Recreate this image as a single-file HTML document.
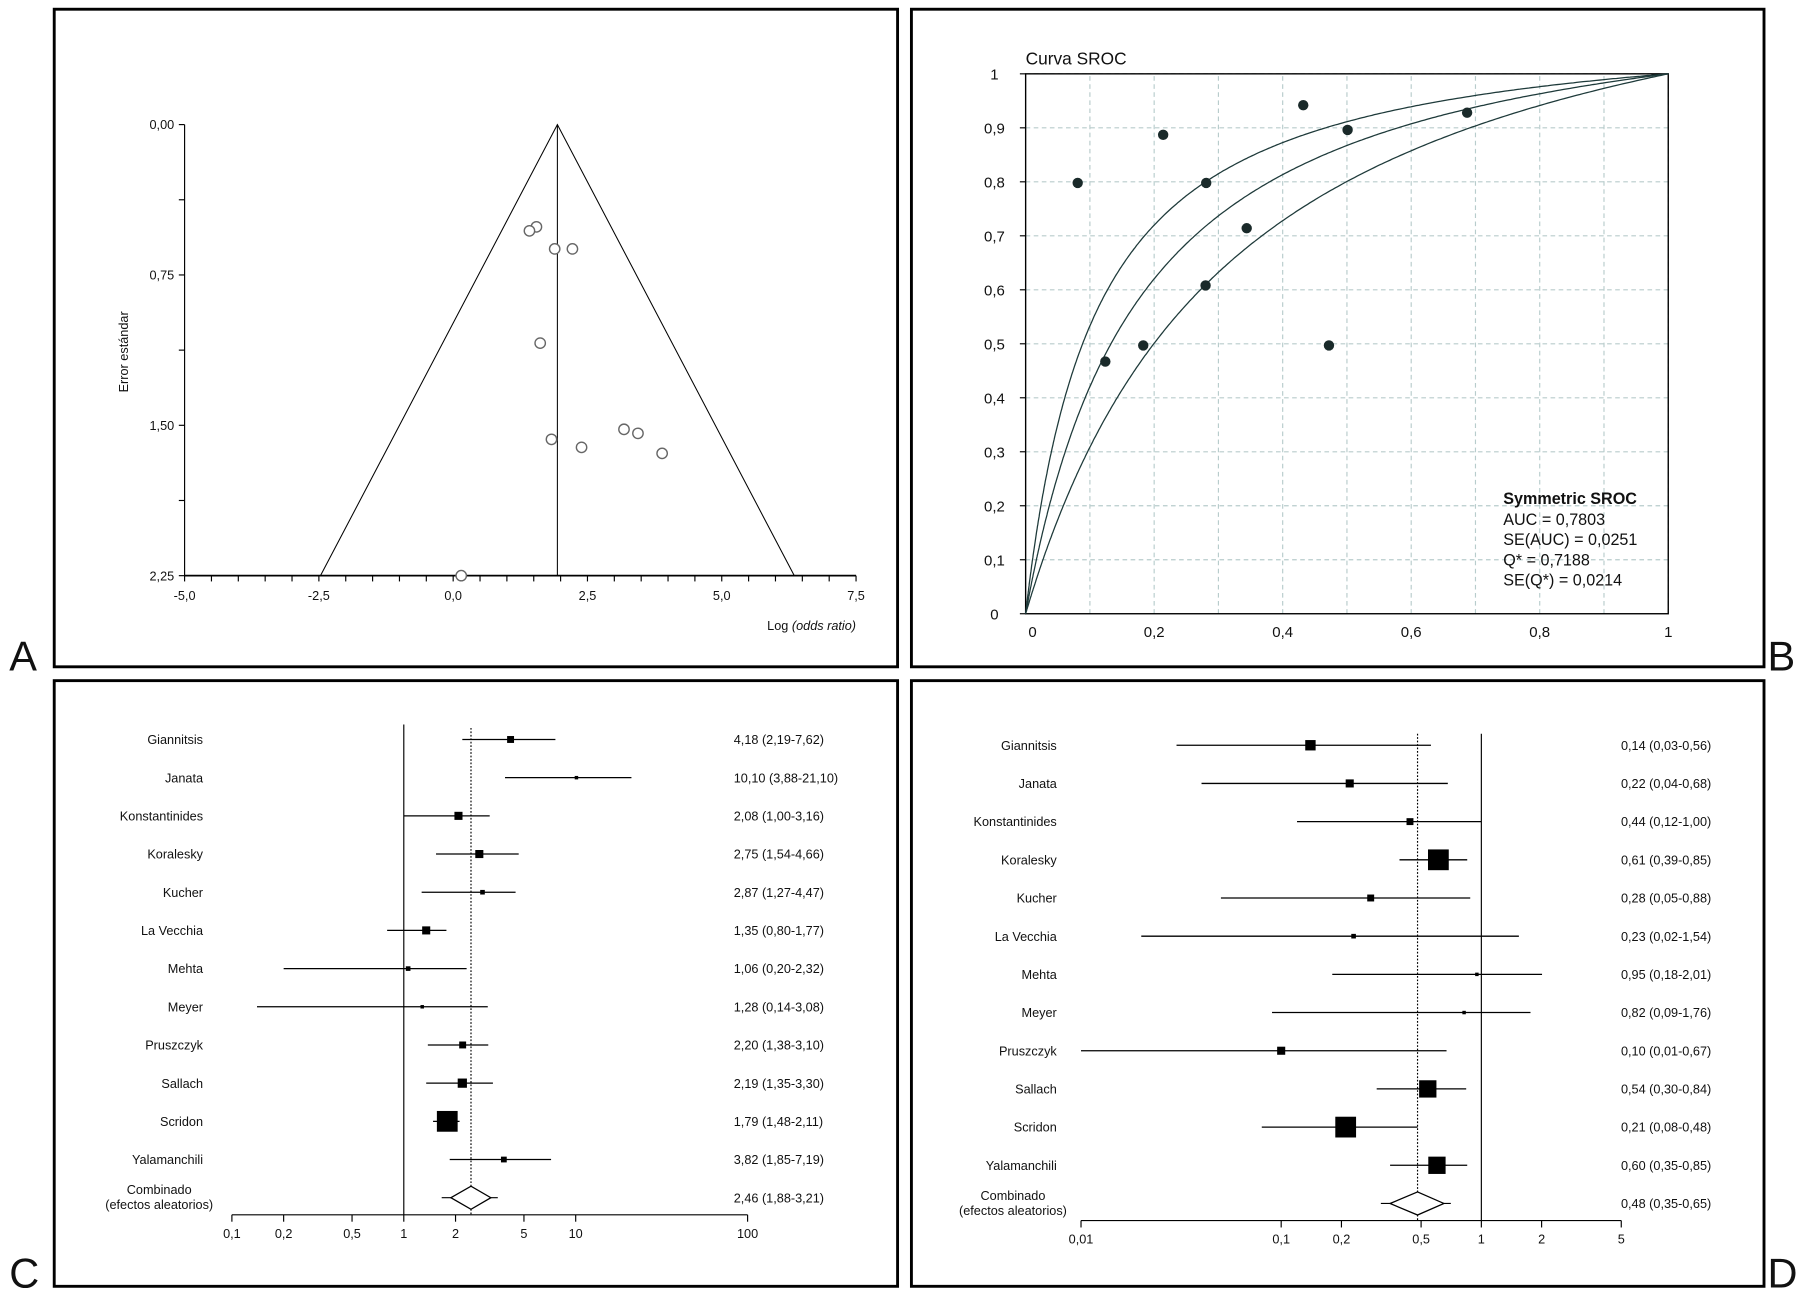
<!DOCTYPE html>
<html><head><meta charset="utf-8"><style>
html,body{margin:0;padding:0;background:#fff}
svg{display:block}
text{font-family:"Liberation Sans",sans-serif;fill:#111}
</style></head><body>
<svg id="fig" width="1809" height="1299" viewBox="0 0 1568 1126" preserveAspectRatio="none" xmlns="http://www.w3.org/2000/svg">
<rect x="0" y="0" width="1568" height="1126" fill="#fff"/>
<rect x="47" y="8" width="731" height="570" fill="none" stroke="#000" stroke-width="2.5"/>
<rect x="790" y="8" width="739" height="570" fill="none" stroke="#000" stroke-width="2.5"/>
<rect x="47" y="590" width="731" height="525" fill="none" stroke="#000" stroke-width="2.5"/>
<rect x="790" y="590" width="739" height="525" fill="none" stroke="#000" stroke-width="2.5"/>
<text x="8" y="581" font-size="36">A</text>
<text x="1532" y="581" font-size="36">B</text>
<text x="8" y="1116" font-size="36">C</text>
<text x="1532" y="1116" font-size="36">D</text>
<g id="ga"></g><g id="gb"></g><g id="gc"></g><g id="gd"></g>
</svg>
<script>
// Panel A funnel data
const funnelLogOR = [1.55,1.42,1.89,2.22,1.62,1.83,2.39,3.18,3.44,3.89,0.15];
const funnelSE = [0.51,0.53,0.62,0.62,1.09,1.57,1.61,1.52,1.54,1.64,2.25];
const funnelPooled = 1.94;
const funnelXTicks = [-5,-2.5,0,2.5,5,7.5];
const funnelYTicks = [0,0.75,1.5,2.25];
// Panel B SROC data
const srocFPR = [0.081,0.214,0.124,0.183,0.281,0.280,0.344,0.432,0.472,0.501,0.687];
const srocTPR = [0.798,0.887,0.467,0.497,0.798,0.608,0.714,0.942,0.497,0.896,0.928];
const srocCurveD = [2.33,1.877,1.39];
const srocTicks = [0,0.2,0.4,0.6,0.8,1];
const srocYTicks = [0,0.1,0.2,0.3,0.4,0.5,0.6,0.7,0.8,0.9,1];
// Panel C forest (odds ratio)
const studies = ["Giannitsis","Janata","Konstantinides","Koralesky","Kucher","La Vecchia","Mehta","Meyer","Pruszczyk","Sallach","Scridon","Yalamanchili"];
const orEst = [4.18,10.10,2.08,2.75,2.87,1.35,1.06,1.28,2.20,2.19,1.79,3.82];
const orLo = [2.19,3.88,1.00,1.54,1.27,0.80,0.20,0.14,1.38,1.35,1.48,1.85];
const orHi = [7.62,21.10,3.16,4.66,4.47,1.77,2.32,3.08,3.10,3.30,2.11,7.19];
const orWeight = [6,3,7,7,4,7,4,3,6,8,18,5];
const orPooled = [2.46,1.88,3.21];
const orTicks = [0.1,0.2,0.5,1,2,5,10,100];
// Panel D forest
const dEst = [0.14,0.22,0.44,0.61,0.28,0.23,0.95,0.82,0.10,0.54,0.21,0.60];
const dLo = [0.03,0.04,0.12,0.39,0.05,0.02,0.18,0.09,0.01,0.30,0.08,0.35];
const dHi = [0.56,0.68,1.00,0.85,0.88,1.54,2.01,1.76,0.67,0.84,0.48,0.85];
const dWeight = [9,7,6,18,6,4,3,3,7,15,18,15];
const dPooled = [0.48,0.35,0.65];
const dTicks = [0.01,0.1,0.2,0.5,1,2,5];

const NS="http://www.w3.org/2000/svg";
function mk(parent,tag,attrs,txt){const e=document.createElementNS(NS,tag);for(const k in attrs)e.setAttribute(k,attrs[k]);if(txt!==undefined)e.textContent=txt;parent.appendChild(e);return e;}
function fmt(v,d){return v.toFixed(d).replace('.',',');}

// ---------- Panel A ----------
(function(){
const g=document.getElementById('ga');
const x=v=>160+(v+5)*(582/12.5), y=v=>108+v*(391/2.25);
let e;
e=mk(g,'line',{x1:160,y1:y(0),x2:160,y2:y(2.25),stroke:'#000','stroke-width':1});


e=mk(g,'line',{x1:160,y1:y(2.25),x2:x(7.5),y2:y(2.25),stroke:'#000','stroke-width':1.5});


for(let v=-5;v<=7.51;v+=0.5){mk(g,'line',{x1:x(v),y1:y(2.25),x2:x(v),y2:y(2.25)+5,stroke:'#000'});}
for(let v=0;v<=2.251;v+=0.375){mk(g,'line',{x1:155,y1:y(v),x2:160,y2:y(v),stroke:'#000'});}
funnelXTicks.forEach(v=>{e=mk(g,'text',{x:x(v),y:y(2.25)+21,'font-size':11,'text-anchor':'middle'},fmt(v,1));

});
funnelYTicks.forEach(v=>{e=mk(g,'text',{x:151,y:y(v)+4,'font-size':11,'text-anchor':'end'},fmt(v,2));

});
const se=2.25, lo=funnelPooled-1.96*se, hi=funnelPooled+1.96*se;
e=mk(g,'polyline',{points:`${x(lo)},${y(se)} ${x(funnelPooled)},${y(0)} ${x(hi)},${y(se)}`,fill:'none',stroke:'#000','stroke-width':0.9});


e=mk(g,'line',{x1:x(funnelPooled),y1:y(0),x2:x(funnelPooled),y2:y(2.25),stroke:'#000','stroke-width':0.9});


funnelLogOR.forEach((v,i)=>{e=mk(g,'circle',{cx:x(v),cy:y(funnelSE[i]),r:4.5,fill:'#fff',stroke:'#666','stroke-width':1.2});

});
e=mk(g,'text',{transform:`translate(111,305) rotate(-90)`,'font-size':11,'text-anchor':'middle'},'Error estándar');


e=mk(g,'text',{x:742,y:546,'font-size':11,'text-anchor':'end'});


e.innerHTML='Log <tspan font-style="italic">(odds ratio)</tspan>';
})();

// ---------- Panel B ----------
(function(){
const g=document.getElementById('gb');
const x=v=>889+v*557, y=v=>532-v*468;
let e;
for(let v=0.1;v<1;v+=0.1){
 mk(g,'line',{x1:x(v),y1:y(0),x2:x(v),y2:y(1),stroke:'#b8cccc','stroke-dasharray':'4,3','stroke-width':1});
 mk(g,'line',{x1:x(0),y1:y(v),x2:x(1),y2:y(v),stroke:'#b8cccc','stroke-dasharray':'4,3','stroke-width':1});
}
e=mk(g,'rect',{x:x(0),y:y(1),width:557,height:468,fill:'none',stroke:'#000','stroke-width':1.2});


srocYTicks.forEach(v=>{mk(g,'line',{x1:x(0)-5,y1:y(v),x2:x(0),y2:y(v),stroke:'#000'});
 e=mk(g,'text',{x:862,y:y(v)+5,'font-size':13,'text-anchor':'middle'},v===0||v===1?String(v):fmt(v,1));
 
 });
srocTicks.forEach(v=>{e=mk(g,'text',{x:x(v)+(v===0?6:0),y:552,'font-size':13,'text-anchor':'middle'},v===0||v===1?String(v):fmt(v,1));
 
 });
srocCurveD.forEach(D=>{let pts=[];for(let i=0;i<=400;i++){const f=Math.pow(i/400,2.2);const fp=Math.min(Math.max(f,1e-6),1-1e-6);const t=1/(1+Math.exp(-(D+Math.log(fp/(1-fp)))));pts.push(x(f).toFixed(1)+','+y(f===0?0:(i===400?1:t)).toFixed(1));}
 e=mk(g,'polyline',{points:pts.join(' '),fill:'none',stroke:'#1e3a3a','stroke-width':1.1});
 
 });
srocFPR.forEach((v,i)=>{e=mk(g,'circle',{cx:x(v),cy:y(srocTPR[i]),r:4.5,fill:'#1a2a2a'});
 
 });
e=mk(g,'text',{x:889,y:56,'font-size':15},'Curva SROC');


const leg=["AUC = 0,7803","SE(AUC) = 0,0251","Q* = 0,7188","SE(Q*) = 0,0214"];
e=mk(g,'text',{x:1303,y:437,'font-size':14,'font-weight':'bold'},'Symmetric SROC');


leg.forEach((s,i)=>{e=mk(g,'text',{x:1303,y:455+i*17.5,'font-size':14},s);
 
 });
})();

// ---------- Forest helper ----------
function forest(g,o){
 const x=v=>o.x0+Math.log10(v/o.v0)*o.dec;
 let e;
 e=mk(g,'line',{x1:x(o.ticks[0]),y1:o.axisY,x2:x(o.ticks[o.ticks.length-1]),y2:o.axisY,stroke:'#000'});
 
 
 o.ticks.forEach(v=>{mk(g,'line',{x1:x(v),y1:o.axisY,x2:x(v),y2:o.axisY+6,stroke:'#000'});
  e=mk(g,'text',{x:x(v),y:o.axisY+20,'font-size':11,'text-anchor':'middle'},String(v).replace('.',','));
  
  });
 e=mk(g,'line',{x1:x(1),y1:o.top,x2:x(1),y2:o.axisY,stroke:'#000','stroke-width':1});
 
 
 e=mk(g,'line',{x1:x(o.pooled[0]),y1:o.rowY(0)-10,x2:x(o.pooled[0]),y2:o.axisY,stroke:'#000','stroke-dasharray':'1.5,1.5'});
 
 
 studies.forEach((s,i)=>{const yy=o.rowY(i);
  e=mk(g,'text',{x:o.nameX,y:yy+4,'font-size':11,'text-anchor':'end'},s);
  
  
  e=mk(g,'line',{x1:x(o.lo[i]),y1:yy,x2:x(o.hi[i]),y2:yy,stroke:'#000','stroke-width':1.1});
  
  
  const w=o.w[i];
  e=mk(g,'rect',{x:x(o.est[i])-w/2,y:yy-w/2,width:w,height:w,fill:'#000'});
  
  
  e=mk(g,'text',{x:o.valX,y:yy+4,'font-size':11},`${fmt(o.est[i],2)} (${fmt(o.lo[i],2)}-${fmt(o.hi[i],2)})`);
  
  
 });
 const yy=o.rowY(12);
 e=mk(g,'text',{x:o.nameX,y:yy-3,'font-size':11,'text-anchor':'middle'},'Combinado');
 
 
 e.setAttribute('x',o.nameX-38);
 e=mk(g,'text',{x:o.nameX-38,y:yy+10,'font-size':11,'text-anchor':'middle'},'(efectos aleatorios)');
 
 
 mk(g,'line',{x1:x(o.pooled[1])-8,y1:yy,x2:x(o.pooled[2])+6,y2:yy,stroke:'#000'});
 e=mk(g,'polygon',{points:`${x(o.pooled[1])},${yy} ${x(o.pooled[0])},${yy-10} ${x(o.pooled[2])},${yy} ${x(o.pooled[0])},${yy+10}`,fill:'#fff',stroke:'#000','stroke-width':1.1});
 
 
 e=mk(g,'text',{x:o.valX,y:yy+4,'font-size':11},`${fmt(o.pooled[0],2)} (${fmt(o.pooled[1],2)}-${fmt(o.pooled[2],2)})`);
 
 
}
forest(document.getElementById('gc'),{x0:201,v0:0.1,dec:149,axisY:1053,top:628,ticks:orTicks,pooled:orPooled,est:orEst,lo:orLo,hi:orHi,w:orWeight,nameX:176,valX:636,rowY:i=>641+i*33.1});
forest(document.getElementById('gd'),{x0:937,v0:0.01,dec:173.5,axisY:1058,top:636,ticks:dTicks,pooled:dPooled,est:dEst,lo:dLo,hi:dHi,w:dWeight,nameX:916,valX:1405,rowY:i=>646+i*33.1});
</script>
</body></html>
